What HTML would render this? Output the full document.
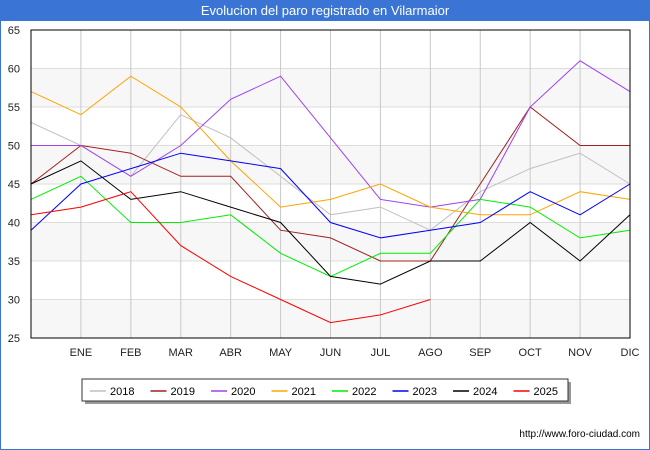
<!DOCTYPE html>
<html><head><meta charset="utf-8"><style>
body{margin:0;width:650px;height:450px;overflow:hidden;font-family:"Liberation Sans","DejaVu Sans",sans-serif;}
#frame{position:absolute;left:0;top:0;width:648px;height:448px;border:1px solid #3a75d6;background:#fff;}
#title{position:absolute;left:0;top:0;width:650px;height:21px;background:#3a75d6;color:#fff;font-size:13px;text-align:center;line-height:22px;}
</style></head><body>
<div id="frame"></div>
<div id="title">Evolucion del paro registrado en Vilarmaior</div>
<svg id="chart" width="650" height="450" style="position:absolute;left:0;top:0"></svg>
<script>
const months=["","ENE","FEB","MAR","ABR","MAY","JUN","JUL","AGO","SEP","OCT","NOV","DIC"];
const yTicks=[25,30,35,40,45,50,55,60,65];
const years=["2018","2019","2020","2021","2022","2023","2024","2025"];
const colors=["#c0c0c0","#a02020","#a040f0","#ffa500","#00ee00","#0000ff","#000000","#ff0000"];
const s2018=[53,50,46,54,51,46,41,42,39,44,47,49,45];
const s2019=[45,50,49,46,46,39,38,35,35,45,55,50,50];
const s2020=[50,50,46,50,56,59,51,43,42,43,55,61,57];
const s2021=[57,54,59,55,48,42,43,45,42,41,41,44,43];
const s2022=[43,46,40,40,41,36,33,36,36,43,42,38,39];
const s2023=[39,45,47,49,48,47,40,38,39,40,44,41,45];
const s2024=[45,48,43,44,42,40,33,32,35,35,40,35,41];
const s2025=[41,42,44,37,33,30,27,28,30];
const series=[s2018,s2019,s2020,s2021,s2022,s2023,s2024,s2025];
const L=31,R=630,T=30,B=338;
const x=i=>L+i*(R-L)/12;
const y=v=>B-(v-25)*(B-T)/40;
const svg=document.getElementById('chart');
const NS='http://www.w3.org/2000/svg';
function mk(t,a){const e=document.createElementNS(NS,t);for(const k in a)e.setAttribute(k,a[k]);svg.appendChild(e);return e;}
for(let v=25;v<65;v+=10){const r=mk('rect',{x:L,y:y(v+5),width:R-L,height:y(v)-y(v+5),fill:'#f7f7f7'});

}
yTicks.forEach(v=>{const g=mk('line',{x1:L,x2:R,y1:y(v),y2:y(v),stroke:'#dddddd'});


const t=mk('text',{x:20,y:y(v)+4,'text-anchor':'end','font-size':11,fill:'#222'});t.textContent=v;

});
months.forEach((m,i)=>{if(i>0){const g=mk('line',{x1:x(i),x2:x(i),y1:T,y2:B,stroke:'#c8c8c8'});

}
const t=mk('text',{x:x(i),y:356,'text-anchor':'middle','font-size':11,fill:'#222'});t.textContent=m;

});
series.forEach((s,k)=>{const p=mk('polyline',{points:s.map((v,i)=>x(i)+','+y(v)).join(' '),fill:'none',stroke:colors[k],'stroke-width':1});

});
const ax=mk('rect',{x:L,y:T,width:R-L,height:B-T,fill:'none',stroke:'#000'});


const sh=mk('rect',{x:85,y:382,width:486,height:22,fill:'#999'});


const lg=mk('rect',{x:82,y:379,width:486,height:22,fill:'#fff',stroke:'#333'});


years.forEach((yr,k)=>{const lx=90+k*60.5;
const l=mk('line',{x1:lx,x2:lx+16,y1:391,y2:391,stroke:colors[k],'stroke-width':1.5});


const t=mk('text',{x:lx+20,y:395,'font-size':11,fill:'#000'});t.textContent=yr;

});
const u=mk('text',{x:640,y:437,'text-anchor':'end','font-size':10,fill:'#000'});u.textContent='http://www.foro-ciudad.com';


</script>
</body></html>
